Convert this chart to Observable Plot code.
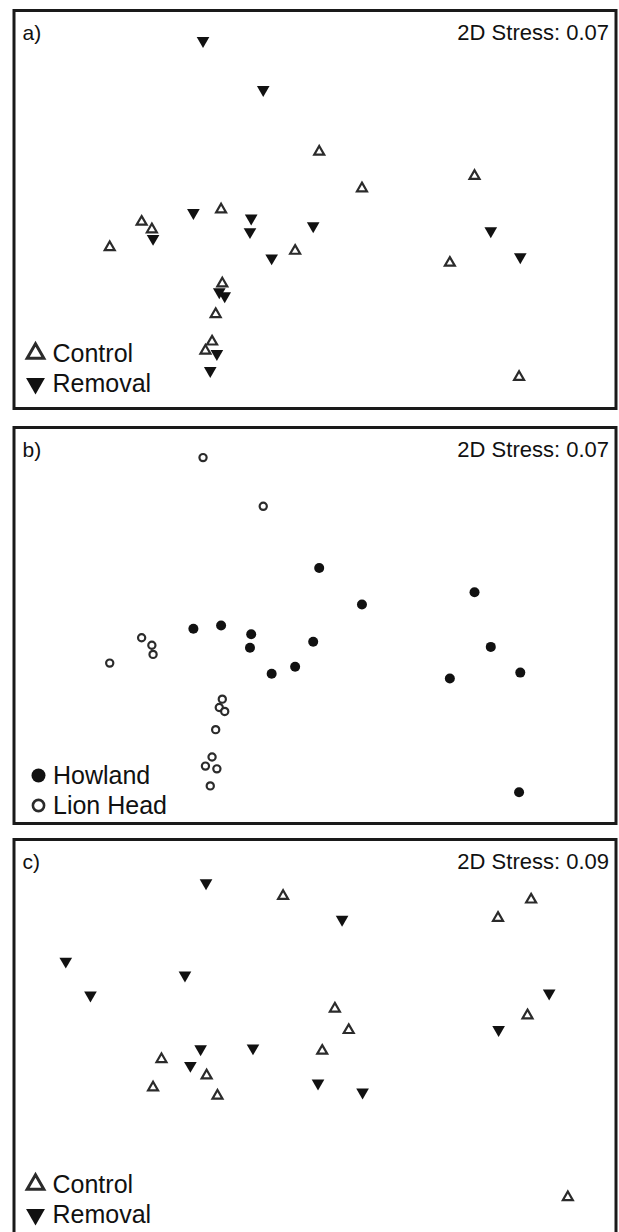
<!DOCTYPE html>
<html><head><meta charset="utf-8">
<script src="https://cdn.jsdelivr.net/npm/d3@7"></script>
<script src="https://cdn.jsdelivr.net/npm/@observablehq/plot@0.6"></script>
<style>
html,body{margin:0;padding:0;background:#fff;overflow:hidden;width:619px;height:1232px;}
#wrap{position:relative;width:619px;height:1232px;overflow:hidden;background:#fff;}
.panel{position:absolute;left:0;}
</style></head><body><div id="wrap"></div>
<script>
// ---- Data: shared NMDS ordination of panels a) and b) ----
const abX = [31.4, 41.4, 21.2, 22.9, 23.1, 15.9, 34.6, 34.1, 35.0, 33.5, 32.9, 31.8, 33.7, 32.6,
             50.7, 57.8, 76.5, 29.8, 34.4, 39.4, 39.2, 49.7, 46.7, 42.8, 79.2, 72.4, 84.1, 83.9];
const abY = [92.4, 80.1, 46.9, 45.0, 42.7, 40.5, 31.4, 29.3, 28.3, 23.7, 16.8, 14.5, 13.8, 9.5,
             64.5, 55.3, 58.4, 49.2, 50.0, 47.8, 44.4, 45.9, 39.6, 37.8, 44.6, 36.6, 38.1, 7.9];
const abSite = ["Lion Head","Lion Head","Lion Head","Lion Head","Lion Head","Lion Head","Lion Head",
                "Lion Head","Lion Head","Lion Head","Lion Head","Lion Head","Lion Head","Lion Head",
                "Howland","Howland","Howland","Howland","Howland","Howland","Howland",
                "Howland","Howland","Howland","Howland","Howland","Howland","Howland"];
const abTreatment = ["Removal","Removal","Control","Control","Removal","Control","Control",
                     "Removal","Removal","Control","Control","Control","Removal","Removal",
                     "Control","Control","Control","Removal","Control","Removal","Removal",
                     "Removal","Control","Removal","Removal","Control","Removal","Control"];
// ---- Data: panel c) ordination ----
const cX = [31.9, 54.5, 8.6, 28.4, 12.7, 88.9, 80.5, 31.0, 39.7, 29.3, 50.5, 57.9,
            44.7, 85.9, 80.4, 53.3, 55.6, 85.3, 51.2, 24.5, 32.0, 23.1, 33.8, 92.0];
const cY = [89.1, 79.9, 69.4, 65.9, 60.9, 61.4, 52.2, 47.4, 47.6, 43.2, 38.8, 36.5,
            85.8, 84.9, 80.3, 57.5, 52.1, 55.8, 46.9, 44.8, 40.7, 37.7, 35.6, 10.1];
const cTreatment = ["Removal","Removal","Removal","Removal","Removal","Removal",
                    "Removal","Removal","Removal","Removal","Removal","Removal",
                    "Control","Control","Control","Control","Control","Control",
                    "Control","Control","Control","Control","Control","Control"];
const panelLabels = ["a)", "b)", "c)"];
const stressLabels = ["2D Stress: 0.07", "2D Stress: 0.07", "2D Stress: 0.09"];
const treatmentNames = ["Control", "Removal"];
const siteNames = ["Howland", "Lion Head"];

// ---- build tables ----
const abData = abX.map((x, i) => ({x, y: abY[i], site: abSite[i], treatment: abTreatment[i]}));
const cData = cX.map((x, i) => ({x, y: cY[i], treatment: cTreatment[i]}));

const triangleDown = {
  draw(context, size) {
    const y = -Math.sqrt(size / (Math.sqrt(3) * 3));
    context.moveTo(0, -y * 2);
    context.lineTo(-Math.sqrt(3) * y, y);
    context.lineTo(Math.sqrt(3) * y, y);
    context.closePath();
  }
};
const FONT = "'Liberation Sans', Arial, Helvetica, sans-serif";
const INK = "#111";

const styles = {
  "Control":  {symbol: "triangle", fill: "white", stroke: "#2b2b2b", strokeWidth: 2.2, r: 3.7, lr: 6.2, lsw: 3},
  "Removal":  {symbol: triangleDown, fill: "#111", stroke: "none", strokeWidth: 0, r: 4.7, lr: 7.0, lsw: 0},
  "Howland":  {symbol: "circle", fill: "#111", stroke: "none", strokeWidth: 0, r: 5.0, lr: 7.0, lsw: 0},
  "Lion Head":{symbol: "circle", fill: "white", stroke: "#2b2b2b", strokeWidth: 2.2, r: 3.6, lr: 5.6, lsw: 2.6}
};

function panel({data, key, groups, label, stress, frameTop, frameBottom, legendDy, legendMarkDx, legendTextDx}) {
  const marks = [];
  for (const g of groups) {
    const s = styles[g];
    marks.push(Plot.dot(data.filter(d => d[key] === g), {
      x: "x", y: "y", symbol: s.symbol, r: s.r, fill: s.fill,
      stroke: s.stroke, strokeWidth: s.strokeWidth
    }));
  }
  groups.forEach((g, i) => {
    const s = styles[g];
    marks.push(Plot.dot([g], {
      x: () => 0, y: () => 0, dx: legendMarkDx, dy: legendDy[i],
      symbol: s.symbol, r: s.lr, fill: s.fill, stroke: s.stroke, strokeWidth: s.lsw
    }));
    marks.push(Plot.text([g], {
      x: () => 0, y: () => 0, text: d => d, dx: legendTextDx, dy: legendDy[i],
      textAnchor: "start", lineAnchor: "middle", fontSize: 25, fill: INK, fontFamily: FONT
    }));
  });
  marks.push(Plot.text([label], {
    frameAnchor: "top-left", text: d => d, dx: 8.5, dy: 23, textAnchor: "start",
    lineAnchor: "middle", fontSize: 21, fill: INK, fontFamily: FONT
  }));
  marks.push(Plot.text([stress], {
    frameAnchor: "top-right", text: d => d, dx: -7, dy: 22, textAnchor: "end",
    lineAnchor: "middle", fontSize: 22, fill: INK, fontFamily: FONT
  }));
  marks.push(Plot.frame({stroke: "#1a1a1a", strokeWidth: 3}));
  const svg = Plot.plot({
    width: 619,
    height: frameBottom - frameTop + 14,
    marginTop: 10, marginBottom: 4, marginLeft: 13.5, marginRight: 3.5,
    x: {domain: [0, 100], axis: null},
    y: {domain: [0, 100], axis: null},
    style: {fontFamily: FONT, background: "white", overflow: "visible"},
    marks
  });
  svg.classList.add("panel");
  svg.style.top = (frameTop - 10) + "px";
  return svg;
}

const wrap = document.getElementById("wrap");
wrap.appendChild(panel({data: abData, key: "treatment", groups: treatmentNames, label: panelLabels[0], stress: stressLabels[0],
  frameTop: 10, frameBottom: 408, legendDy: [-55, -25], legendMarkDx: 21.5, legendTextDx: 38.5}));
wrap.appendChild(panel({data: abData, key: "site", groups: siteNames, label: panelLabels[1], stress: stressLabels[1],
  frameTop: 427, frameBottom: 823, legendDy: [-48, -18], legendMarkDx: 24.5, legendTextDx: 39}));
wrap.appendChild(panel({data: cData, key: "treatment", groups: treatmentNames, label: panelLabels[2], stress: stressLabels[2],
  frameTop: 839, frameBottom: 1237, legendDy: [-53, -23], legendMarkDx: 21.5, legendTextDx: 38.5}));
</script>
</body></html>
